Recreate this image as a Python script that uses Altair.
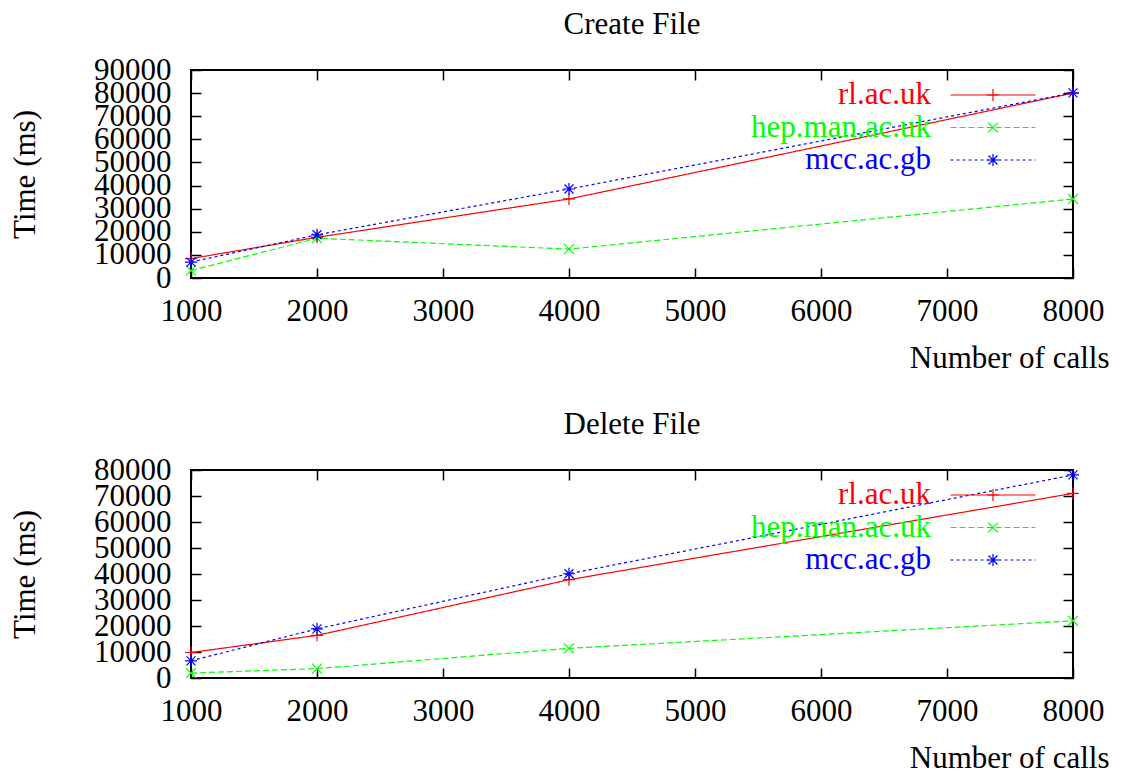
import altair as alt
import pandas as pd

# ---------------- data ----------------
calls = [1000, 2000, 4000, 8000]
series_names = ["rl.ac.uk", "hep.man.ac.uk", "mcc.ac.gb"]
series_colors = ["#ff0000", "#00ff00", "#0000ff"]

create_rl = [8400, 17600, 34200, 80000]
create_hep = [3200, 17200, 12500, 34200]
create_mcc = [6900, 18700, 38500, 80100]

delete_rl = [9800, 16400, 37800, 71000]
delete_hep = [1900, 3600, 11400, 22000]
delete_mcc = [6600, 18900, 40100, 78100]

x_ticks = [1000, 2000, 3000, 4000, 5000, 6000, 7000, 8000]
create_y_ticks = [0, 10000, 20000, 30000, 40000, 50000, 60000, 70000, 80000, 90000]
delete_y_ticks = [0, 10000, 20000, 30000, 40000, 50000, 60000, 70000, 80000]

titles = ["Create File", "Delete File"]
x_title = "Number of calls"
y_title = "Time (ms)"

# ---------------- styles ----------------
FONT = "Liberation Serif"
FS = 31
W, H = 882, 208
dashes = [[1, 0], [6, 3], [3, 3]]
PLUS = "M-0.4,0H0.4M0,-0.4V0.4"
CROSS = "M-0.33,-0.33L0.33,0.33M-0.33,0.33L0.33,-0.33"
STAR = "M-0.4,0H0.4M0,-0.4V0.4M-0.3,-0.3L0.3,0.3M-0.3,0.3L0.3,-0.3"
shapes = [PLUS, CROSS, STAR]
LINE_SYMBOL = "M-2.83,0H2.83"

color_expr = " : ".join(
    f"datum.value === '{n}' ? '{c}'" for n, c in zip(series_names[:-1], series_colors[:-1])
) + f" : '{series_colors[-1]}'"


def legend(line):
    kw = dict(
        orient="none", legendX=786, legendY=9, title=None, padding=0,
        rowPadding=1.5, symbolSize=900, symbolStrokeWidth=1.2,
        labelFont=FONT, labelFontSize=FS, labelAlign="right",
        labelOffset=alt.ExprRef(expr="-78"),
        labelLimit=500, labelColor=alt.ExprRef(expr=color_expr),
    )
    if line:
        kw["symbolType"] = LINE_SYMBOL
    else:
        kw["labelOpacity"] = 0
        kw["symbolFillColor"] = "transparent"
        kw["symbolStrokeColor"] = alt.ExprRef(expr=color_expr)
    return alt.Legend(**kw)


def tick_axis(orient, values):
    return alt.Axis(orient=orient, values=values, offset=alt.ExprRef(expr="-10"),
                    tickSize=10, tickWidth=1.5, tickColor="black", labels=False,
                    domain=False, grid=False, title=None)


def panel(title, ymax, yticks, rl, hep, mcc):
    rows = []
    for name, vals in zip(series_names, [rl, hep, mcc]):
        for c, v in zip(calls, vals):
            rows.append({"calls": c, "time": v, "series": name, "series_m": name})
    df = pd.DataFrame(rows)
    base = alt.Chart(df)
    xs = alt.Scale(domain=[1000, 8000], nice=False, zero=False)
    ys = alt.Scale(domain=[0, ymax], nice=False)

    x_lab = alt.Axis(orient="bottom", values=x_ticks, format="d", ticks=False,
                     tickSize=0, domain=False, grid=False, labelFont=FONT,
                     labelFontSize=FS, labelColor="black", labelPadding=18,
                     labelFlush=False, labelOverlap=False, title=x_title,
                     titleFont=FONT, titleFontSize=FS, titleFontWeight="normal",
                     titleColor="black", titleX=918, titleY=80, titleAlign="right",
                     titleBaseline="middle", titleAngle=0)
    y_lab = alt.Axis(orient="left", values=yticks, format="d", ticks=False,
                     tickSize=0, domain=False, grid=False, labelFont=FONT,
                     labelFontSize=FS, labelColor="black", labelPadding=20,
                     labelFlush=False, labelOverlap=False, title=y_title,
                     titleFont=FONT, titleFontSize=FS, titleFontWeight="normal",
                     titleColor="black", titleX=-166, titleY=H / 2,
                     titleAlign="center", titleBaseline="middle", titleAngle=270)

    lines = base.mark_line(strokeWidth=1.2).encode(
        x=alt.X("calls:Q", scale=xs, axis=x_lab),
        y=alt.Y("time:Q", scale=ys, axis=y_lab),
        color=alt.Color("series:N", scale=alt.Scale(domain=series_names, range=series_colors),
                        legend=legend(True)),
        strokeDash=alt.StrokeDash("series:N", scale=alt.Scale(domain=series_names, range=dashes),
                                  legend=legend(True)),
    )
    points = base.mark_point(filled=False, size=900, strokeWidth=1.2, opacity=1).encode(
        x=alt.X("calls:Q", scale=xs, axis=tick_axis("top", x_ticks)),
        y=alt.Y("time:Q", scale=ys, axis=tick_axis("right", yticks)),
        stroke=alt.Stroke("series_m:N", scale=alt.Scale(range=series_colors),
                          legend=None, sort=series_names),
        shape=alt.Shape("series_m:N", scale=alt.Scale(range=shapes),
                        legend=legend(False), sort=series_names),
    )
    ticks = base.mark_point(opacity=0).encode(
        x=alt.X("calls:Q", scale=xs, axis=tick_axis("bottom", x_ticks)),
        y=alt.Y("time:Q", scale=ys, axis=tick_axis("left", yticks)),
    )
    return alt.layer(lines, points, ticks).resolve_axis(
        x="independent", y="independent"
    ).properties(
        width=W, height=H,
        title=alt.TitleParams(title, font=FONT, fontSize=FS, fontWeight="normal",
                              color="black", anchor="middle", frame="group", offset=13),
    )


top = panel(titles[0], 90000, create_y_ticks, create_rl, create_hep, create_mcc)
bottom = panel(titles[1], 80000, delete_y_ticks, delete_rl, delete_hep, delete_mcc)

chart = alt.vconcat(top, bottom, spacing=34).resolve_scale(
    color="independent", strokeDash="independent", stroke="independent",
    shape="independent", x="independent", y="independent",
).resolve_legend(
    color="independent", strokeDash="independent", stroke="independent",
    shape="independent",
).properties(padding=0, background="white").configure_view(
    stroke="black", strokeWidth=2
)

chart.save("out.html", embed_options={"renderer": "svg", "actions": False})
